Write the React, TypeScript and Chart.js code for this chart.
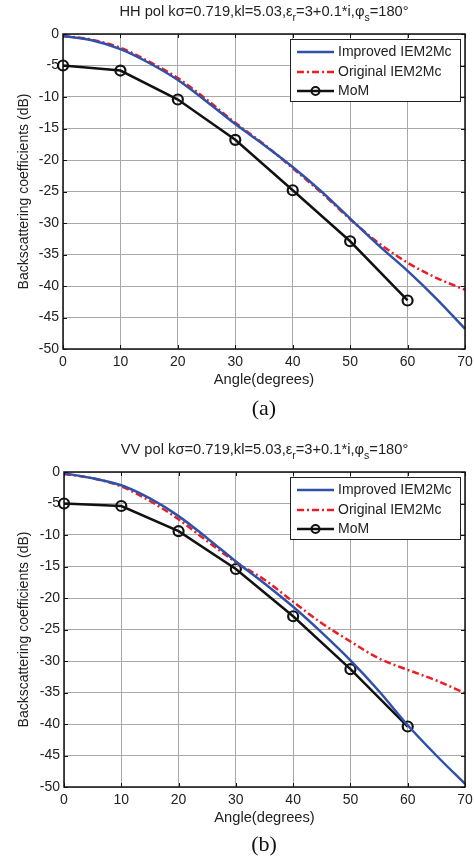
import React, { useEffect, useRef } from 'react';
import { Chart, registerables } from 'chart.js';

Chart.register(...registerables);

// ---------- data ----------
const curveAngles = [0, 5, 10, 15, 20, 25, 30, 35, 40, 45, 50, 55, 60, 65, 70];
const improvedHH = [-0.3, -1.0, -2.4, -4.6, -7.3, -10.7, -14.3, -17.6, -21.1, -25.0, -29.3, -33.6, -37.6, -42.0, -46.8];
const originalHH = [-0.3, -0.9, -2.2, -4.4, -7.0, -10.4, -14.1, -17.5, -21.3, -25.2, -29.4, -33.2, -36.3, -38.7, -40.6];
const momAngles = [0, 10, 20, 30, 40, 50, 60];
const momHH = [-5.0, -5.8, -10.4, -16.8, -24.8, -32.9, -42.3];

const improvedVV = [-0.2, -1.0, -2.1, -4.2, -7.0, -10.5, -14.2, -17.7, -21.4, -25.5, -29.9, -34.8, -40.2, -45.0, -49.5];
const originalVV = [-0.3, -1.0, -2.3, -4.6, -7.5, -11.0, -14.3, -17.1, -20.6, -24.0, -26.9, -29.6, -31.4, -33.1, -35.1];
const momVV = [-5.0, -5.4, -9.4, -15.4, -22.9, -31.3, -40.4];

const xTickValues = [0, 10, 20, 30, 40, 50, 60, 70];
const yTickValues = [0, -5, -10, -15, -20, -25, -30, -35, -40, -45, -50];
const seriesLabels = ['Improved IEM2Mc', 'Original IEM2Mc', 'MoM'];
const xTitle = 'Angle(degrees)';
const yTitle = 'Backscattering coefficients (dB)';

const FONT = '"Liberation Sans", Arial, sans-serif';
const BLUE = '#2f51a9';
const RED = '#ec1c24';
const BLACK = '#111111';

type Seg = { t: string; sub?: boolean };
const titleSegs = (pol: string): Seg[] => [
  { t: pol + ' pol k\u03c3=0.719,kl=5.03,\u03b5' },
  { t: 'r', sub: true },
  { t: '=3+0.1*i,\u03c6' },
  { t: 's', sub: true },
  { t: '=180\u00b0' },
];

type PanelProps = {
  pol: string;
  improved: number[];
  original: number[];
  mom: number[];
  height: number;
  plotLeft: number;
  plotRight: number;
  plotTop: number;
  plotBottom: number;
};

function Panel(props: PanelProps) {
  const ref = useRef<HTMLCanvasElement | null>(null);
  useEffect(() => {
    const { pol, improved, original, mom, height, plotLeft, plotRight, plotTop, plotBottom } = props;
    const canvas = ref.current!;
    const decor = {
      id: 'decor',
      afterDraw(chart: any) {
        const ctx = chart.ctx as CanvasRenderingContext2D;
        const a = chart.chartArea;
        const xs = chart.scales.x;
        const ys = chart.scales.y;
        ctx.save();
        // box
        ctx.strokeStyle = BLACK;
        ctx.lineWidth = 1.5;
        ctx.strokeRect(a.left, a.top, a.right - a.left, a.bottom - a.top);
        // inward tick marks
        ctx.lineWidth = 1;
        ctx.beginPath();
        xTickValues.forEach((v) => {
          const px = Math.round(xs.getPixelForValue(v)) + 0.5;
          ctx.moveTo(px, a.bottom); ctx.lineTo(px, a.bottom - 4);
          ctx.moveTo(px, a.top); ctx.lineTo(px, a.top + 4);
        });
        yTickValues.forEach((v) => {
          const py = Math.round(ys.getPixelForValue(v)) + 0.5;
          ctx.moveTo(a.left, py); ctx.lineTo(a.left + 4, py);
          ctx.moveTo(a.right, py); ctx.lineTo(a.right - 4, py);
        });
        ctx.stroke();

        // title with subscripts
        const segs = titleSegs(pol);
        const mainF = `14.7px ${FONT}`;
        const subF = `10.5px ${FONT}`;
        let total = 0;
        segs.forEach((s) => { ctx.font = s.sub ? subF : mainF; total += ctx.measureText(s.t).width; });
        let tx = (a.left + a.right) / 2 - total / 2;
        const ty = a.top - 22;
        ctx.fillStyle = '#222';
        ctx.textBaseline = 'middle';
        ctx.textAlign = 'left';
        segs.forEach((s) => {
          ctx.font = s.sub ? subF : mainF;
          ctx.fillText(s.t, tx, s.sub ? ty + 6 : ty);
          tx += ctx.measureText(s.t).width;
        });

        // axis titles
        ctx.font = `14.7px ${FONT}`;
        ctx.textAlign = 'center';
        ctx.fillText(xTitle, (a.left + a.right) / 2, a.bottom + 31);
        ctx.font = `14px ${FONT}`;
        ctx.save();
        ctx.translate(24, (a.top + a.bottom) / 2);
        ctx.rotate(-Math.PI / 2);
        ctx.fillText(yTitle, 0, 0);
        ctx.restore();

        // legend
        const lx = a.right - 175;
        const ly = a.top + 5;
        const lw = 170;
        const lh = 62;
        ctx.fillStyle = '#ffffff';
        ctx.fillRect(lx, ly, lw, lh);
        ctx.strokeStyle = '#222';
        ctx.lineWidth = 1;
        ctx.strokeRect(lx + 0.5, ly + 0.5, lw, lh);
        const colors = [BLUE, RED, BLACK];
        const rows = [13, 33, 52];
        rows.forEach((dy, i) => {
          const y = ly + dy;
          ctx.strokeStyle = colors[i];
          ctx.lineWidth = 2.5;
          ctx.setLineDash(i === 1 ? [7, 3, 2, 3] : []);
          ctx.beginPath();
          ctx.moveTo(lx + 7, y);
          ctx.lineTo(lx + 44, y);
          ctx.stroke();
          ctx.setLineDash([]);
          if (i === 2) {
            ctx.lineWidth = 2;
            ctx.beginPath();
            ctx.arc(lx + 25.5, y, 4, 0, Math.PI * 2);
            ctx.stroke();
          }
          ctx.fillStyle = '#222';
          ctx.font = `14px ${FONT}`;
          ctx.textAlign = 'left';
          ctx.textBaseline = 'middle';
          ctx.fillText(seriesLabels[i], lx + 48, y + 0.5);
        });
        ctx.restore();
      },
    };

    const chart = new Chart(canvas, {
      type: 'line',
      data: {
        datasets: [
          {
            label: seriesLabels[0],
            data: curveAngles.map((x, i) => ({ x, y: improved[i] })),
            borderColor: BLUE,
            borderWidth: 2.5,
            pointRadius: 0,
            cubicInterpolationMode: 'monotone',
            clip: false,
          },
          {
            label: seriesLabels[1],
            data: curveAngles.map((x, i) => ({ x, y: original[i] })),
            borderColor: RED,
            borderWidth: 2.5,
            borderDash: [7, 3, 2, 3],
            pointRadius: 0,
            cubicInterpolationMode: 'monotone',
            clip: false,
          },
          {
            label: seriesLabels[2],
            data: momAngles.map((x, i) => ({ x, y: mom[i] })),
            borderColor: BLACK,
            borderWidth: 2.5,
            pointRadius: 5,
            pointBorderWidth: 2.2,
            pointBorderColor: BLACK,
            pointBackgroundColor: 'rgba(0,0,0,0)',
            tension: 0,
            clip: false,
          },
        ] as any,
      },
      options: {
        animation: false,
        responsive: false,
        events: [],
        layout: { padding: { top: plotTop, right: 474 - plotRight, left: 0, bottom: 0 } },
        plugins: { legend: { display: false }, tooltip: { enabled: false }, title: { display: false } },
        scales: {
          x: {
            type: 'linear',
            min: 0,
            max: 70,
            ticks: { stepSize: 10, padding: 5, color: '#222', font: { family: FONT, size: 14 } },
            grid: { color: '#a9a9a9', lineWidth: 1, drawTicks: false },
            border: { display: false },
            afterFit: (s: any) => { s.height = height - plotBottom; s.paddingLeft = 0; s.paddingRight = 0; },
          },
          y: {
            type: 'linear',
            min: -50,
            max: 0,
            ticks: { stepSize: 5, padding: 4, color: '#222', font: { family: FONT, size: 14 } },
            grid: { color: '#a9a9a9', lineWidth: 1, drawTicks: false },
            border: { display: false },
            afterFit: (s: any) => { s.width = plotLeft; s.paddingTop = 0; s.paddingBottom = 0; },
          },
        },
      } as any,
      plugins: [decor],
    });
    return () => chart.destroy();
  }, []);
  return <canvas ref={ref} width={474} height={props.height} style={{ display: 'block' }} />;
}

const captionStyle: React.CSSProperties = {
  position: 'absolute',
  left: 214,
  width: 100,
  textAlign: 'center',
  fontFamily: '"Liberation Serif", "Times New Roman", serif',
  fontSize: 22,
  lineHeight: '26px',
  color: '#111',
};

export default function App() {
  return (
    <div style={{ position: 'fixed', left: 0, top: 0, width: 474, height: 862, background: '#fff', overflow: 'hidden' }}>
      <div style={{ position: 'absolute', left: 0, top: 0 }}>
        <Panel pol="HH" improved={improvedHH} original={originalHH} mom={momHH}
          height={430} plotLeft={63} plotRight={465} plotTop={34} plotBottom={349} />
      </div>
      <div style={{ position: 'absolute', left: 0, top: 430 }}>
        <Panel pol="VV" improved={improvedVV} original={originalVV} mom={momVV}
          height={432} plotLeft={64} plotRight={465} plotTop={42} plotBottom={357} />
      </div>
      <div style={{ ...captionStyle, top: 395 }}>(a)</div>
      <div style={{ ...captionStyle, top: 831 }}>(b)</div>
    </div>
  );
}
